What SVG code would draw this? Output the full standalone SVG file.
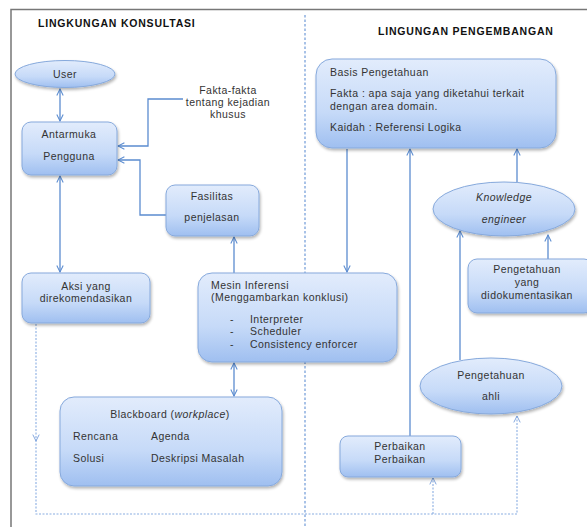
<svg xmlns="http://www.w3.org/2000/svg" width="587" height="527" viewBox="0 0 587 527">
  <defs>
    <linearGradient id="fill" x1="0" y1="0" x2="0" y2="1">
      <stop offset="0" stop-color="#e2ecfc"/>
      <stop offset="0.6" stop-color="#c6daf8"/>
      <stop offset="1" stop-color="#9fbff0"/>
    </linearGradient>
    <filter id="shadow" x="-10%" y="-10%" width="125%" height="130%">
      <feGaussianBlur in="SourceAlpha" stdDeviation="1.5"/>
      <feOffset dx="1" dy="2"/>
      <feComponentTransfer><feFuncA type="linear" slope="0.3"/></feComponentTransfer>
      <feMerge><feMergeNode/><feMergeNode in="SourceGraphic"/></feMerge>
    </filter>
    <marker id="arrow" viewBox="0 0 10 10" refX="9" refY="5" markerWidth="8" markerHeight="8" markerUnits="userSpaceOnUse" orient="auto-start-reverse">
      <path d="M1 1 L9 5 L1 9" fill="none" stroke="#5b8cd0" stroke-width="1.3"/>
    </marker>
    <marker id="arrowDot" viewBox="0 0 10 10" refX="9" refY="5" markerWidth="8" markerHeight="8" markerUnits="userSpaceOnUse" orient="auto-start-reverse">
      <path d="M1 1 L9 5 L1 9" fill="none" stroke="#7ea3dc" stroke-width="1.2"/>
    </marker>
  </defs>
  <style>
    .node { fill: url(#fill); stroke: #86a9dc; stroke-width: 1; filter: url(#shadow); }
    .t { font-family: "Liberation Sans", Arial, sans-serif; font-size: 10.5px; letter-spacing: 0.45px; fill: #333; }
    .c { text-anchor: middle; }
    .title { font-family: "Liberation Sans", Arial, sans-serif; font-size: 10.5px; letter-spacing: 0.8px; font-weight: bold; fill: #111; }
    .line { fill: none; stroke: #5b8cd0; stroke-width: 1.3; }
    .dot { fill: none; stroke: #8aaee2; stroke-width: 1.1; stroke-dasharray: 2 1.5; }
  </style>
  <rect width="587" height="527" fill="#fff"/>

  <!-- outer frame -->
  <path d="M11 527 V9.5 H587" fill="none" stroke="#777" stroke-width="1.5"/>
  <!-- divider between the two environments -->
  <line x1="305" y1="15" x2="305" y2="527" stroke="#6f9ad8" stroke-width="1.2" stroke-dasharray="2.5 2"/>

  <text class="title" x="38" y="27">LINGKUNGAN KONSULTASI</text>
  <text class="title" x="378" y="35">LINGUNGAN PENGEMBANGAN</text>

  <g id="connectors">
    <line class="line" x1="60" y1="89" x2="60" y2="121" marker-start="url(#arrow)" marker-end="url(#arrow)"/>
    <line class="line" x1="60" y1="176" x2="60" y2="272" marker-start="url(#arrow)" marker-end="url(#arrow)"/>
    <polyline class="line" points="183,99 148,99 148,146 118,146" marker-end="url(#arrow)"/>
    <polyline class="line" points="166,215 140,215 140,160 118,160" marker-end="url(#arrow)"/>
    <line class="line" x1="234" y1="273" x2="234" y2="237" marker-end="url(#arrow)"/>
    <line class="line" x1="234" y1="363" x2="234" y2="396" marker-start="url(#arrow)" marker-end="url(#arrow)"/>
    <line class="line" x1="347" y1="149" x2="347" y2="272" marker-end="url(#arrow)"/>
    <line class="line" x1="410" y1="436" x2="410" y2="149" marker-end="url(#arrow)"/>
    <line class="line" x1="517" y1="182" x2="517" y2="149" marker-end="url(#arrow)"/>
    <line class="line" x1="460" y1="360" x2="460" y2="231" marker-end="url(#arrow)"/>
    <line class="line" x1="548" y1="259" x2="548" y2="235" marker-end="url(#arrow)"/>
    <!-- dotted feedback loop -->
    <line class="dot" x1="36" y1="324" x2="36" y2="441" marker-end="url(#arrowDot)"/>
    <polyline class="dot" points="36,440 36,514 517,514 517,416" marker-end="url(#arrowDot)"/>
    <line class="dot" x1="433" y1="514" x2="433" y2="478" marker-end="url(#arrowDot)"/>
  </g>

  <g id="user">
    <ellipse class="node" cx="65" cy="74" rx="50" ry="13.5"/>
    <text class="t c" x="65" y="78">User</text>
  </g>

  <g id="antarmuka">
    <rect class="node" x="22" y="122" width="95" height="53" rx="9"/>
    <text class="t c" x="69" y="138">Antarmuka</text>
    <text class="t c" x="69" y="160">Pengguna</text>
  </g>

  <g id="fakta-label">
    <text class="t c" x="228" y="94">Fakta-fakta</text>
    <text class="t c" x="228" y="106">tentang kejadian</text>
    <text class="t c" x="228" y="118">khusus</text>
  </g>

  <g id="fasilitas">
    <rect class="node" x="166" y="185" width="93" height="51" rx="9"/>
    <text class="t c" x="212" y="200">Fasilitas</text>
    <text class="t c" x="212" y="221">penjelasan</text>
  </g>

  <g id="aksi">
    <rect class="node" x="22" y="273" width="128" height="50" rx="9"/>
    <text class="t c" x="86" y="290">Aksi yang</text>
    <text class="t c" x="86" y="302">direkomendasikan</text>
  </g>

  <g id="mesin">
    <rect class="node" x="198" y="273" width="199" height="89" rx="14"/>
    <text class="t" x="211" y="289">Mesin Inferensi</text>
    <text class="t" x="211" y="301">(Menggambarkan konklusi)</text>
    <text class="t" x="230" y="323">-</text>
    <text class="t" x="250" y="323">Interpreter</text>
    <text class="t" x="230" y="335">-</text>
    <text class="t" x="250" y="335">Scheduler</text>
    <text class="t" x="230" y="348">-</text>
    <text class="t" x="250" y="348">Consistency enforcer</text>
  </g>

  <g id="blackboard">
    <rect class="node" x="60" y="397" width="222" height="89" rx="14"/>
    <text class="t c" x="170" y="418">Blackboard (<tspan font-style="italic">workplace</tspan>)</text>
    <text class="t" x="73" y="440">Rencana</text>
    <text class="t" x="151" y="440">Agenda</text>
    <text class="t" x="73" y="462">Solusi</text>
    <text class="t" x="151" y="462">Deskripsi Masalah</text>
  </g>

  <g id="basis">
    <rect class="node" x="316" y="59" width="240" height="89" rx="16"/>
    <text class="t" x="330" y="76">Basis Pengetahuan</text>
    <text class="t" x="330" y="97">Fakta : apa saja yang diketahui terkait</text>
    <text class="t" x="330" y="110">dengan area domain.</text>
    <text class="t" x="330" y="131">Kaidah : Referensi Logika</text>
  </g>

  <g id="knowledge-engineer">
    <ellipse class="node" cx="504" cy="209" rx="71" ry="27"/>
    <text class="t c" x="504" y="201" font-style="italic">Knowledge</text>
    <text class="t c" x="504" y="223" font-style="italic">engineer</text>
  </g>

  <g id="dokumentasi">
    <rect class="node" x="468" y="259" width="125" height="54" rx="9"/>
    <text class="t c" x="527" y="273">Pengetahuan</text>
    <text class="t c" x="527" y="286">yang</text>
    <text class="t c" x="527" y="299">didokumentasikan</text>
  </g>

  <g id="ahli">
    <ellipse class="node" cx="491" cy="386" rx="71" ry="28"/>
    <text class="t c" x="491" y="379">Pengetahuan</text>
    <text class="t c" x="491" y="400">ahli</text>
  </g>

  <g id="perbaikan">
    <rect class="node" x="340" y="436" width="121" height="41" rx="8"/>
    <text class="t c" x="400" y="450">Perbaikan</text>
    <text class="t c" x="400" y="463">Perbaikan</text>
  </g>
</svg>
